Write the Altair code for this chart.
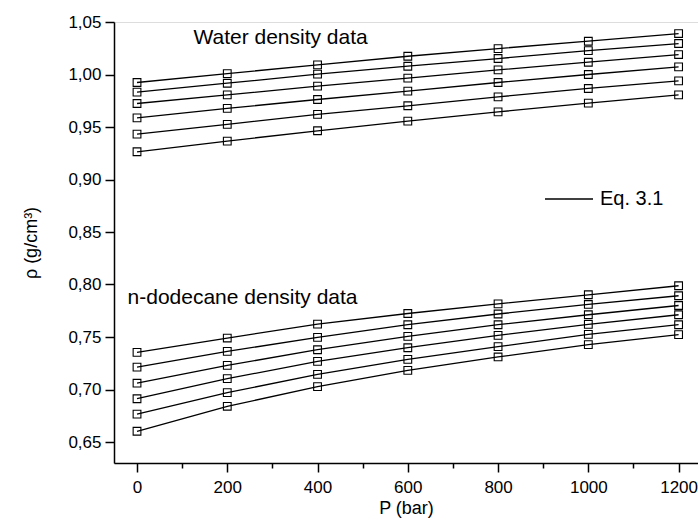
import altair as alt
import pandas as pd

# ---- data ----
P = [0, 200, 400, 600, 800, 1000, 1200]

water = [
    [0.9924, 1.0009, 1.0091, 1.0174, 1.0247, 1.0317, 1.0390],
    [0.9832, 0.9917, 1.0003, 1.0079, 1.0152, 1.0228, 1.0295],
    [0.9724, 0.9806, 0.9889, 0.9965, 1.0044, 1.0117, 1.0190],
    [0.9587, 0.9677, 0.9762, 0.9841, 0.9924, 1.0000, 1.0072],
    [0.9432, 0.9525, 0.9620, 0.9702, 0.9787, 0.9867, 0.9939],
    [0.9264, 0.9366, 0.9464, 0.9556, 0.9644, 0.9727, 0.9806],
]
dodecane = [
    [0.7353, 0.7490, 0.7623, 0.7724, 0.7816, 0.7902, 0.7988],
    [0.7213, 0.7363, 0.7496, 0.7617, 0.7719, 0.7810, 0.7893],
    [0.7060, 0.7230, 0.7379, 0.7506, 0.7617, 0.7712, 0.7800],
    [0.6912, 0.7103, 0.7268, 0.7398, 0.7515, 0.7620, 0.7712],
    [0.6765, 0.6970, 0.7144, 0.7287, 0.7408, 0.7525, 0.7617],
    [0.6602, 0.6840, 0.7027, 0.7182, 0.7310, 0.7427, 0.7522],
]

x_ticks = [0, 100, 200, 300, 400, 500, 600, 700, 800, 900, 1000, 1100, 1200]
y_ticks = [0.65, 0.675, 0.70, 0.725, 0.75, 0.775, 0.80, 0.825, 0.85, 0.875,
           0.90, 0.925, 0.95, 0.975, 1.00, 1.025, 1.05]

label_text = ["Water density data", "n-dodecane density data"]
label_x = [125, -21]
label_y = [1.0288, 0.7817]

legend_name = "Eq. 3.1"

# ---- tables ----
rows = []
for name, group in (("water", water), ("dodecane", dodecane)):
    for i, series in enumerate(group):
        for p, v in zip(P, series):
            rows.append({"P": p, "rho": v, "series": f"{name}{i}", "fit": legend_name})
df = pd.DataFrame(rows)
labels_df = pd.DataFrame({"text": label_text, "x": label_x, "y": label_y})

FONT = "Liberation Sans"
xscale = alt.Scale(domain=[-51, 1243], nice=False, zero=False)
yscale = alt.Scale(domain=[0.63, 1.05], nice=False, zero=False)

x_major = "datum.value % 200 === 0"
y_major = "abs(datum.value * 20 - round(datum.value * 20)) < 0.001"

x_axis = alt.Axis(values=x_ticks, title="P (bar)", orient="bottom", grid=False,
                  domainColor="black", domainWidth=1.5, tickColor="black", tickWidth=1.5,
                  tickSize={"condition": {"test": x_major, "value": 9}, "value": 5},
                  labelExpr=f"{x_major} ? format(datum.value, 'd') : ''",
                  labelOverlap=False,
                  labelFont=FONT, labelFontSize=17, labelColor="black",
                  labelPadding=7, titleFont=FONT, titleFontSize=18, titleFontWeight="normal",
                  titleColor="black", titlePadding=4, labelFlush=False)
y_axis = alt.Axis(values=y_ticks, title="ρ (g/cm³)", orient="left", grid=False,
                  domainColor="black", domainWidth=1.5, tickColor="black", tickWidth=1.5,
                  tickSize={"condition": {"test": y_major, "value": 9}, "value": 5},
                  labelExpr=f"{y_major} ? replace(format(datum.value, '.2f'), '.', ',') : ''",
                  labelOverlap=False,
                  labelFont=FONT, labelFontSize=17, labelColor="black", labelPadding=4,
                  titleFont=FONT, titleFontSize=18, titleFontWeight="normal",
                  titleColor="black", titlePadding=27, labelFlush=False)

lines = alt.Chart(df).mark_line(strokeWidth=1.3).encode(
    x=alt.X("P:Q", scale=xscale, axis=x_axis),
    y=alt.Y("rho:Q", scale=yscale, axis=y_axis),
    detail="series:N",
    color=alt.Color("fit:N", scale=alt.Scale(range=["black"]),
                    legend=alt.Legend(title=None, orient="none", legendX=430, legendY=152,
                                      symbolType="stroke", symbolSize=2304,
                                      symbolStrokeWidth=1.3, labelFont=FONT,
                                      labelFontSize=20, labelColor="black", labelOffset=6)),
)

points = alt.Chart(df).mark_point(shape="square", filled=False, size=60, color="black",
                                  strokeWidth=1.1, opacity=1).encode(
    x=alt.X("P:Q", scale=xscale),
    y=alt.Y("rho:Q", scale=yscale),
)

texts = alt.Chart(labels_df).mark_text(align="left", baseline="alphabetic", font=FONT,
                                       fontSize=21, color="black").encode(
    x=alt.X("x:Q", scale=xscale),
    y=alt.Y("y:Q", scale=yscale),
    text="text:N",
)

chart = alt.layer(lines, points, texts).properties(
    width=584, height=441,
    autosize=alt.AutoSizeParams(type="none"),
    padding={"left": 114, "top": 22, "right": 0, "bottom": 64},
).configure_view(stroke=None).configure(background="white")

chart.save("out.html", embed_options={"renderer": "svg", "actions": False})
